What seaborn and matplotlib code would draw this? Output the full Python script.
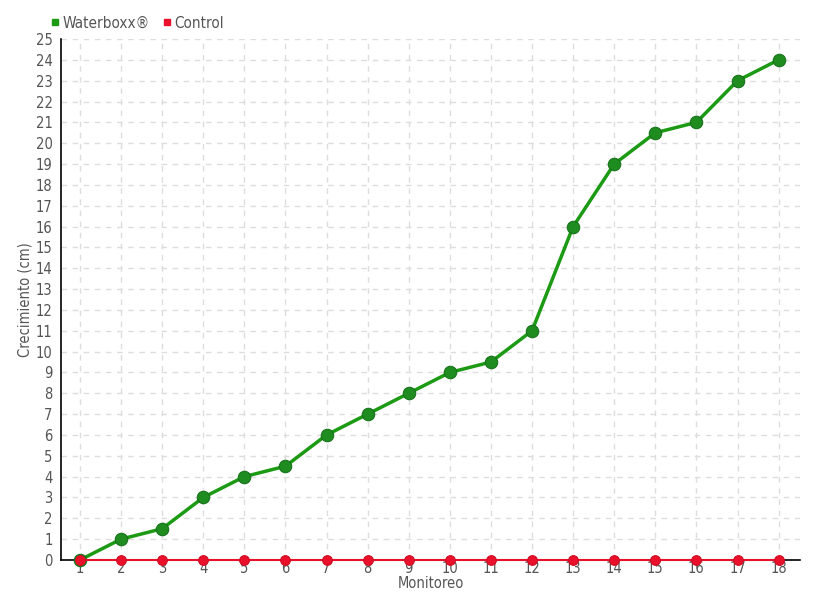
import matplotlib
matplotlib.use("Agg")
import matplotlib.pyplot as plt
import seaborn as sns
import pandas as pd
from matplotlib.lines import Line2D

monitoreo = [str(i) for i in range(1, 19)]
waterboxx = [0, 1, 1.5, 3, 4, 4.5, 6, 7, 8, 9, 9.5, 11, 16, 19, 20.5, 21, 23, 24]
control = [0] * 18
series_names = ["Waterboxx®", "Control"]
colors = ["#1c9a14", "#e8102a"]

sns.set_style("white")
plt.rcParams['font.family'] = ['DejaVu Sans']
plt.rcParams['font.stretch'] = 'condensed'

df = pd.DataFrame({
    "Monitoreo": monitoreo * 2,
    "value": waterboxx + control,
    "serie": [series_names[0]] * 18 + [series_names[1]] * 18,
})
df["x"] = list(range(18)) * 2

fig = plt.figure(figsize=(8.2, 6), dpi=100)
ax = fig.add_axes([61/820, 1-560/600, (800-61)/820, (560-39)/600])

sns.lineplot(data=df[df.serie == "Control"], x="x", y="value", ax=ax, color=colors[1],
             lw=1.5, marker="o", markersize=7, markeredgecolor="#d00a20", zorder=5,
             legend=False, clip_on=False)
sns.lineplot(data=df[df.serie == series_names[0]], x="x", y="value", ax=ax, color=colors[0],
             lw=2.5, marker="o", markersize=9, markeredgecolor="#15701a", markerfacecolor="#1e8c1e",
             zorder=4, legend=False, clip_on=False)
ax.plot([0], [control[0]], "o", color=colors[1], ms=6, zorder=6, clip_on=False)

ax.set_xlim(-0.46, 17.52)
ax.set_ylim(0, 25)
ax.set_xticks(range(18))
ax.set_xticklabels(monitoreo)
ax.set_yticks(range(0, 26))
ax.grid(True, color="#dddddd", ls=(0, (4, 4)), lw=1)
ax.set_axisbelow(True)
for s in ["top", "right"]:
    ax.spines[s].set_visible(False)
ax.spines["left"].set_color("black")
ax.spines["bottom"].set_color("black")
ax.spines["left"].set_linewidth(1.2)
ax.spines["bottom"].set_linewidth(1.2)
ax.tick_params(axis="both", colors="#555555", labelsize=10.5, length=4, direction="out")
ax.tick_params(axis="y", color="black", pad=2, length=4)
ax.tick_params(axis="x", length=0, pad=1)
ax.set_xlabel("Monitoreo", color="#555555", fontsize=10.5, labelpad=0)
ax.set_ylabel("Crecimiento (cm)", color="#555555", fontsize=10.5, labelpad=2)

handles = [Line2D([], [], ls="none", marker="s", color=c, ms=5) for c in colors]
fig.legend(handles, series_names, loc="upper left", bbox_to_anchor=(34/820, 1-2/600),
           ncol=2, frameon=False, handletextpad=0.0, columnspacing=0.6,
           prop={"size": 11}, labelcolor="#555555", handlelength=1.0)

fig.savefig("out.png", dpi=100)
